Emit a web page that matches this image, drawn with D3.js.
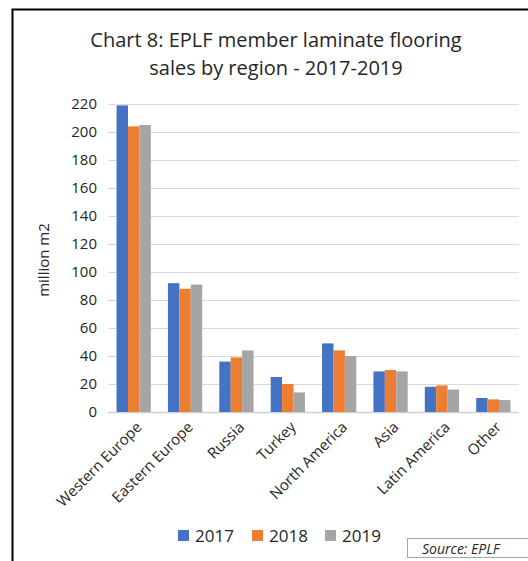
<!DOCTYPE html>
<html>
<head>
<meta charset="utf-8">
<script src="https://cdn.jsdelivr.net/npm/d3@7"></script>
<style>
  body { margin: 0; background: #fff; }
  svg text { font-family: "Open Sans", "Noto Sans", sans-serif; fill: #262626; }
</style>
</head>
<body>
<div id="chart"></div>
<script>
// data
let regions = ["Western Europe", "Eastern Europe", "Russia", "Turkey", "North America", "Asia", "Latin America", "Other"];
let years = ["2017", "2018", "2019"];
let sales2017 = [219, 92, 36, 25, 49, 29, 18, 10];
let sales2018 = [204, 88, 39, 20, 44, 30, 19, 9];
let sales2019 = [205, 91, 44, 14, 40, 29, 16, 8.5];
let yTicks = [0, 20, 40, 60, 80, 100, 120, 140, 160, 180, 200, 220];
let colors = ["#4472C4", "#ED7D31", "#A5A5A5"];

let width = 528, height = 561;
let plotLeft = 108, plotRight = 519, plotTop = 104, plotBottom = 412;

let svg = d3.select("#chart").append("svg")
    .attr("width", width)
    .attr("height", height);

// frame (only left and top edges are visible in the crop)
svg.append("path")
    .attr("d", "M12.5," + height + "V9.5H" + width)
    .style("fill", "none")
    .style("stroke", "#000")
    .style("stroke-width", 2);

//title
{
    let t = svg.append("text")
        .attr("x", 276)
        .attr("text-anchor", "middle")
        .attr("font-size", 20);
    t.append("tspan").attr("x", 276).attr("y", 47).text("Chart 8: EPLF member laminate flooring");
    t.append("tspan").attr("x", 276).attr("y", 75).text("sales by region - 2017-2019");
}

let x = d3.scaleBand().domain(regions).range([plotLeft, plotRight]).paddingInner(1.5 / 4.5).paddingOuter(0.75 / 4.5);
let xs = d3.scaleBand().domain(years).range([0, x.bandwidth()]);
let y = d3.scaleLinear().domain([0, 220]).range([plotBottom, plotTop]);

//grid lines
svg.append("g")
    .selectAll("line")
    .data(yTicks)
    .join("line")
    .attr("x1", plotLeft)
    .attr("x2", plotRight)
    .attr("y1", d => Math.round(y(d)) + 0.5)
    .attr("y2", d => Math.round(y(d)) + 0.5)
    .style("stroke", d => d === 0 ? "#d0d0d0" : "#d9d9d9")
    .style("stroke-width", d => d === 0 ? 1.5 : 1);

//y axis labels
let yAxis = svg.append("g")
    .attr("transform", "translate(" + (plotLeft - 11) + ",0)")
    .call(d3.axisLeft(y).tickValues(yTicks).tickSize(0).tickPadding(0));
yAxis.select(".domain").remove();
yAxis.selectAll("text")
    .attr("font-size", 15)
    .style("font-family", "\"Open Sans\", sans-serif")
    .style("fill", "#262626");

svg.append("text")
    .attr("transform", "translate(49,260) rotate(-90)")
    .attr("text-anchor", "middle")
    .attr("font-size", 15)
    .text("million m2");

//bars
let series = [sales2017, sales2018, sales2019];
series.forEach((vals, s) => {
    svg.append("g")
        .selectAll("rect")
        .data(regions)
        .join("rect")
        .attr("x", (d) => x(d) + xs(years[s]))
        .attr("y", (d, i) => y(vals[i]))
        .attr("width", xs.bandwidth())
        .attr("height", (d, i) => y(0) - y(vals[i]))
        .style("fill", colors[s]);
});

//x axis labels
let xAxis = svg.append("g")
    .attr("transform", "translate(0," + (plotBottom + 1) + ")")
    .call(d3.axisBottom(x).tickSize(0).tickPadding(0));
xAxis.select(".domain").remove();
xAxis.selectAll("text")
    .attr("font-size", 15)
    .style("font-family", "\"Open Sans\", sans-serif")
    .style("fill", "#262626")
    .attr("text-anchor", "end")
    .attr("dy", 0)
    .attr("transform", "translate(9,15) rotate(-45)");

//legend
{
    let lx = [178, 252, 325];
    years.forEach((yr, i) => {
        let g = svg.append("g").attr("transform", "translate(" + lx[i] + ",530)");
        g.append("rect").attr("width", 11).attr("height", 11).style("fill", colors[i]);
        g.append("text").attr("x", 17).attr("y", 12).attr("font-size", 17).text(yr);
    });
}

//source box
svg.append("rect")
    .attr("x", 407.5).attr("y", 538.5)
    .attr("width", 130).attr("height", 19)
    .style("fill", "#fff")
    .style("stroke", "#a6a6a6");
svg.append("text")
    .attr("x", 422).attr("y", 554)
    .attr("font-size", 14)
    .attr("font-style", "italic")
    .text("Source: EPLF");
</script>
</body>
</html>
